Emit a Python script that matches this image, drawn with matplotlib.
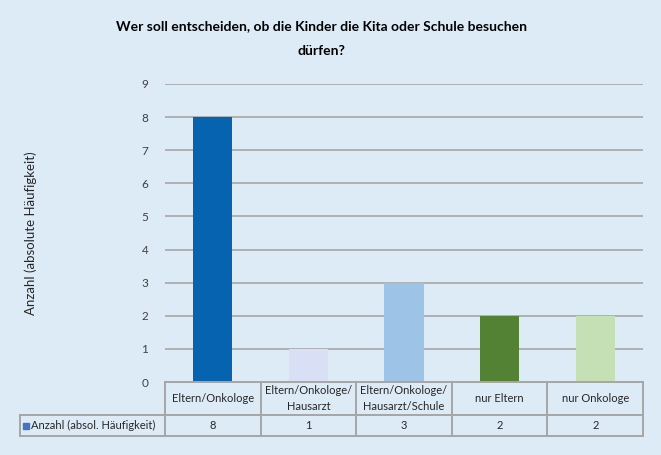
import matplotlib.pyplot as plt
from matplotlib.patches import Rectangle
from matplotlib.transforms import blended_transform_factory

plt.rcParams['font.family'] = ['Lato', 'DejaVu Sans']

# data
categories = ['Eltern/Onkologe', 'Eltern/Onkologe/\nHausarzt', 'Eltern/Onkologe/\nHausarzt/Schule',
              'nur Eltern', 'nur Onkologe']
counts = [8, 1, 3, 2, 2]
series_name = 'Anzahl (absol. Häufigkeit)'
bar_colors = ['#0563AF', '#D9E0F5', '#9DC3E6', '#548235', '#C5E0B4']
bg = '#DDEBF7'
edge = '#A6A6A6'
txt = '#262626'

fig = plt.figure(figsize=(6.61, 4.55), dpi=100, facecolor=bg)
ax = fig.add_axes([0.2496, 0.1604, 0.7232, 0.655], facecolor=bg)

n = len(categories)
x = range(n)
ax.bar(x, counts, width=0.41, color=bar_colors, zorder=3)
ax.set_xlim(-0.5, n - 0.5)
ax.set_ylim(0, 9)
ax.set_yticks(range(0, 10))
ax.yaxis.grid(True, color=edge, linewidth=1.2, zorder=0)
ax.tick_params(axis='y', length=0, pad=12, labelsize=8.5, labelcolor='#404040')
ax.set_xticks([])
for s in ax.spines.values():
    s.set_visible(False)

ax.set_ylabel('Anzahl (absolute Häufigkeit)', fontsize=9.5, color=txt, labelpad=75)

# data table under the bars (x in data units, y in axes fraction)
tr = blended_transform_factory(ax.transData, ax.transAxes)
px = 1 / 95.6  # one pixel in data units
left = -0.5 - 145 * px
y_head = -33 / 298
y_bot = -54 / 298
y_mid = (y_head + y_bot) / 2
line_kw = dict(color=edge, linewidth=1.4, transform=tr, clip_on=False, zorder=4)
ax.plot([-0.5, n - 0.5], [0, 0], **line_kw)
ax.plot([left, n - 0.5], [y_head, y_head], **line_kw)
ax.plot([left, n - 0.5], [y_bot, y_bot], **line_kw)
ax.plot([left, left], [y_head, y_bot], **line_kw)
for b in range(n + 1):
    ax.plot([b - 0.5, b - 0.5], [0, y_bot], **line_kw)

for i, (cat, c) in enumerate(zip(categories, counts)):
    ax.text(i, y_head / 2, cat, transform=tr, ha='center', va='center',
            fontsize=8, color=txt, linespacing=1.5)
    ax.text(i, y_mid, str(c), transform=tr, ha='center', va='center',
            fontsize=8, color=txt)

# legend key + series name in the row label
ax.add_patch(Rectangle((left + 3 * px, y_mid - 3 / 298), 6 * px, 6 / 298, transform=tr,
                       color='#4472C4', clip_on=False, zorder=4))
ax.text(left + 11 * px, y_mid, series_name, transform=tr, ha='left', va='center',
        fontsize=8, color=txt)

fig.text(0.486, 0.955, 'Wer soll entscheiden, ob die Kinder die Kita oder Schule besuchen\ndürfen?',
         ha='center', va='top', fontsize=10, fontweight='bold', linespacing=2.3)

plt.savefig('out.png', dpi=100, facecolor=bg)
